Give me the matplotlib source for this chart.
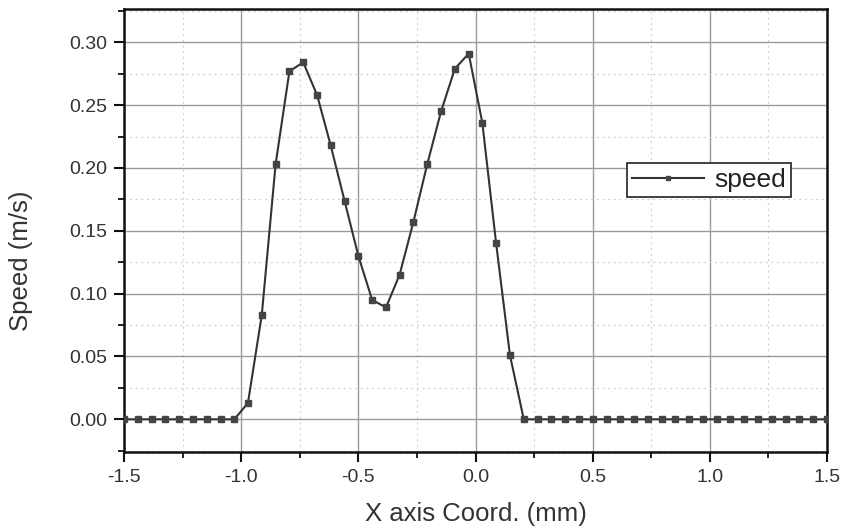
import matplotlib
matplotlib.use("Agg")
import matplotlib.pyplot as plt
from matplotlib.ticker import MultipleLocator

plt.rcParams['font.family'] = ['Liberation Sans', 'DejaVu Sans']

# x positions along the line (mm), 52 sample points
x_mm = [-1.500, -1.441, -1.382, -1.324, -1.265, -1.206, -1.147, -1.088, -1.029,
        -0.971, -0.912, -0.853, -0.794, -0.735, -0.676, -0.618, -0.559, -0.500,
        -0.441, -0.382, -0.324, -0.265, -0.206, -0.147, -0.088, -0.029, 0.029,
        0.088, 0.147, 0.206, 0.265, 0.324, 0.382, 0.441, 0.500, 0.559, 0.618,
        0.676, 0.735, 0.794, 0.853, 0.912, 0.971, 1.029, 1.088, 1.147, 1.206,
        1.265, 1.324, 1.382, 1.441, 1.500]
# speed (m/s)
speed = [0, 0, 0, 0, 0, 0, 0, 0, 0,
         0.013, 0.083, 0.203, 0.277, 0.284, 0.258, 0.218, 0.174, 0.130,
         0.095, 0.089, 0.115, 0.157, 0.203, 0.245, 0.279, 0.291, 0.236,
         0.140, 0.051, 0, 0, 0, 0, 0, 0, 0, 0,
         0, 0, 0, 0, 0, 0, 0, 0, 0, 0,
         0, 0, 0, 0, 0]

xticks = [-1.5, -1.0, -0.5, 0.0, 0.5, 1.0, 1.5]
yticks = [0.00, 0.05, 0.10, 0.15, 0.20, 0.25, 0.30]

fig = plt.figure(figsize=(8.44, 5.32), dpi=100)
ax = fig.add_axes([0.1469, 0.1504, 0.833, 0.8327])

ax.plot(x_mm, speed, color='#333333', lw=1.5, marker='s', markersize=4,
        markerfacecolor='#444444', markeredgecolor='#444444', label='speed',
        zorder=3)

ax.set_xlim(-1.5, 1.5)
ax.set_ylim(-0.026, 0.3265)
ax.set_xticks(xticks)
ax.set_xticklabels(['%.1f' % t for t in xticks])
ax.set_yticks(yticks)
ax.set_yticklabels(['%.2f' % t for t in yticks])
ax.xaxis.set_minor_locator(MultipleLocator(0.25))
ax.yaxis.set_minor_locator(MultipleLocator(0.025))

ax.grid(which='major', color='#9a9a9a', lw=1.0, ls='-')
ax.grid(which='minor', color='#cfcfcf', lw=0.9, ls=(0, (1.5, 3)))
ax.set_axisbelow(True)

for s in ax.spines.values():
    s.set_linewidth(1.8)
    s.set_color('#111111')

ax.tick_params(which='major', direction='out', length=7, width=1.5,
               labelsize=14, colors='#111111', labelcolor='#333333', pad=5)
ax.tick_params(which='minor', direction='out', length=4, width=1.3,
               colors='#111111')

ax.set_xlabel('X axis Coord. (mm)', fontsize=18.5, color='#333333', labelpad=12)
ax.set_ylabel('Speed (m/s)', fontsize=18.5, color='#333333')
# the y label sits lower than the axes centre in the reference
ax.yaxis.set_label_coords(-0.129, 0.431)

leg = ax.legend(loc='upper left', bbox_to_anchor=(0.7155, 0.653),
                borderaxespad=0, fontsize=19, handlelength=2.7,
                fancybox=False, framealpha=1, edgecolor='#222222',
                borderpad=0.2, handletextpad=0.4, markerscale=0.8)
leg.get_frame().set_linewidth(1.2)
for t in leg.get_texts():
    t.set_color('#222222')

fig.savefig('out.png', dpi=100)
